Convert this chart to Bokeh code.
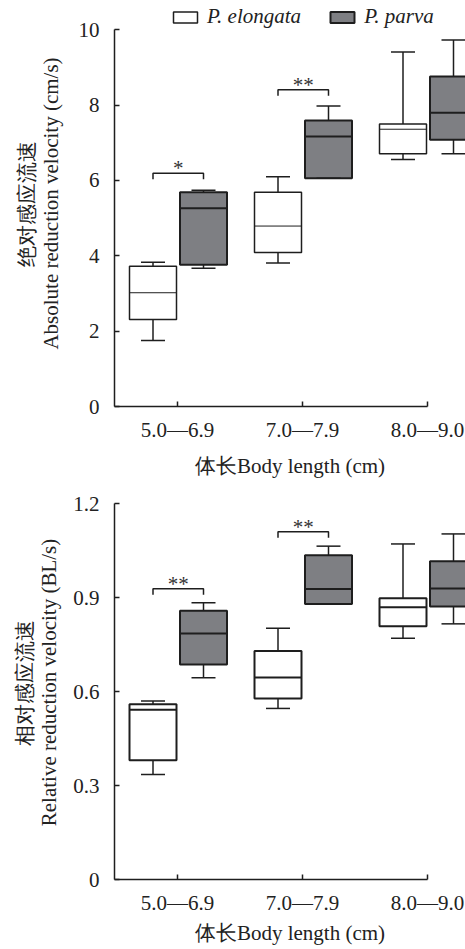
from bokeh.plotting import figure
from bokeh.layouts import column
from bokeh.models import ColumnDataSource, Legend, LegendItem, FixedTicker, Range1d
from bokeh.core.properties import value
from bokeh.embed import file_html
from bokeh.resources import INLINE

# ---------------- data ----------------
groups = ["5.0\u20146.9", "7.0\u20147.9", "8.0\u20149.0"]
species = ["P. elongata", "P. parva"]

# Absolute reduction velocity (cm/s)
abs_elo_wlo = [1.75, 3.81, 6.56]
abs_elo_q1 = [2.31, 4.09, 6.71]
abs_elo_med = [3.02, 4.79, 7.36]
abs_elo_q3 = [3.72, 5.69, 7.50]
abs_elo_whi = [3.83, 6.10, 9.41]
abs_par_wlo = [3.67, 6.06, 6.71]
abs_par_q1 = [3.76, 6.06, 7.08]
abs_par_med = [5.26, 7.17, 7.80]
abs_par_q3 = [5.69, 7.59, 8.76]
abs_par_whi = [5.74, 7.98, 9.73]
abs_sig_group = [0, 1]
abs_sig_level = [6.19, 8.41]
abs_sig_text = ["*", "**"]
abs_yticks = [0, 2, 4, 6, 8, 10]
abs_ytick_labels = ["0", "2", "4", "6", "8", "10"]

# Relative reduction velocity (BL/s)
rel_elo_wlo = [0.335, 0.546, 0.770]
rel_elo_q1 = [0.381, 0.578, 0.808]
rel_elo_med = [0.542, 0.645, 0.869]
rel_elo_q3 = [0.559, 0.729, 0.898]
rel_elo_whi = [0.570, 0.802, 1.071]
rel_par_wlo = [0.644, 0.879, 0.816]
rel_par_q1 = [0.686, 0.879, 0.871]
rel_par_med = [0.785, 0.927, 0.929]
rel_par_q3 = [0.858, 1.035, 1.016]
rel_par_whi = [0.883, 1.064, 1.103]
rel_sig_group = [0, 1]
rel_sig_level = [0.928, 1.110]
rel_sig_text = ["**", "**"]
rel_yticks = [0, 0.3, 0.6, 0.9, 1.2]
rel_ytick_labels = ["0", "0.3", "0.6", "0.9", "1.2"]

xlabel = "\u4f53\u957fBody length (cm)"
abs_ylabel = "\u7edd\u5bf9\u611f\u5e94\u6d41\u901f\nAbsolute reduction velocity (cm/s)"
rel_ylabel = "\u76f8\u5bf9\u611f\u5e94\u6d41\u901f\nRelative reduction velocity (BL/s)"

# ---------------- style ----------------
FONT = "Liberation Serif"
FS = "21px"
GREY = "#7e7f83"
DARK = "#1e1e1e"
OFFSETS = [-0.196, 0.208]
HALF_W = 0.188
CAP = 0.096
X_START, X_END = 0.496, 3.304


def series_source(s, wlo, q1, med, q3, whi):
    xs = [i + 1 + OFFSETS[s] for i in range(len(groups))]
    return ColumnDataSource(dict(
        x=xs, left=[x - HALF_W for x in xs], right=[x + HALF_W for x in xs],
        cl=[x - CAP for x in xs], cr=[x + CAP for x in xs],
        wlo=wlo, q1=q1, med=med, q3=q3, whi=whi))


def panel(height, y_end, min_bottom, px_per_unit, yticks, ylabels, ylabel,
          elo, par, sig_group, sig_level, sig_text, med_w_elo, box_w_elo,
          ylabel_standoff, xlabel_standoff, tick_standoff, legend=False):
    p = figure(width=465, height=height,
               x_range=Range1d(X_START, X_END), y_range=Range1d(0, y_end),
               output_backend="svg", toolbar_location=None,
               min_border_left=114, min_border_right=0, min_border_top=0,
               min_border_bottom=min_bottom)
    p.grid.visible = False
    p.outline_line_color = None

    renderers = []
    for s, (vals, fill, lw_box, lw_med) in enumerate([
            (elo, "white", box_w_elo, med_w_elo),
            (par, GREY, 2.0, 2.0)]):
        src = series_source(s, *vals)
        p.segment(x0="x", y0="q3", x1="x", y1="whi", source=src,
                  line_color=DARK, line_width=1.5)
        p.segment(x0="x", y0="wlo", x1="x", y1="q1", source=src,
                  line_color=DARK, line_width=1.5)
        r = p.quad(left="left", right="right", top="q3", bottom="q1", source=src,
                   fill_color=fill, line_color=DARK, line_width=lw_box)
        renderers.append(r)
        p.segment(x0="left", y0="med", x1="right", y1="med", source=src,
                  line_color=DARK, line_width=lw_med)
        p.segment(x0="cl", y0="whi", x1="cr", y1="whi", source=src,
                  line_color=DARK, line_width=1.5)
        p.segment(x0="cl", y0="wlo", x1="cr", y1="wlo", source=src,
                  line_color=DARK, line_width=1.5)

    # significance brackets
    leg = 6.0 / px_per_unit
    bx0 = [g + 1 + OFFSETS[0] for g in sig_group]
    bx1 = [g + 1 + OFFSETS[1] for g in sig_group]
    p.multi_line(xs=[[a, a, b, b] for a, b in zip(bx0, bx1)],
                 ys=[[l - leg, l, l, l - leg] for l in sig_level],
                 line_color=DARK, line_width=1.5)
    p.text(x=[(a + b) / 2 for a, b in zip(bx0, bx1)], y=sig_level, text=sig_text,
           text_font=value(FONT), text_font_size=FS, text_color="#333333",
           text_align="center", text_baseline="alphabetic", y_offset=-5)

    # axes
    xa = p.xaxis[0]
    xa.ticker = FixedTicker(ticks=[1, 2, 3])
    xa.major_label_overrides = {i + 1: g for i, g in enumerate(groups)}
    xa.bounds = (X_START, 3)
    xa.axis_label = xlabel
    xa.axis_label_standoff = xlabel_standoff
    xa.major_label_standoff = tick_standoff
    ya = p.yaxis[0]
    ya.ticker = FixedTicker(ticks=yticks)
    ya.major_label_overrides = {t: l for t, l in zip(yticks, ylabels)}
    ya.bounds = (0, yticks[-1])
    ya.axis_label = ylabel
    ya.axis_label_standoff = ylabel_standoff
    ya.major_label_standoff = 15
    for ax in (xa, ya):
        ax.axis_line_color = DARK
        ax.axis_line_width = 1.5
        ax.major_tick_line_color = DARK
        ax.major_tick_line_width = 1.5
        ax.major_tick_in = 5
        ax.major_tick_out = 0
        ax.minor_tick_line_color = None
        ax.major_label_text_font = FONT
        ax.major_label_text_font_size = FS
        ax.major_label_text_color = "#222222"
        ax.axis_label_text_font = FONT
        ax.axis_label_text_font_size = FS
        ax.axis_label_text_font_style = "normal"
        ax.axis_label_text_color = "#222222"
        ax.axis_label_text_line_height = 1.0

    if legend:
        lg = Legend(items=[LegendItem(label=species[0], renderers=[renderers[0]]),
                           LegendItem(label=species[1], renderers=[renderers[1]])],
                    location=(56, 377), orientation="horizontal",
                    glyph_width=30, glyph_height=14, label_standoff=7, spacing=26,
                    padding=0, margin=0, border_line_color=None,
                    background_fill_alpha=0,
                    label_text_font=FONT, label_text_font_size=FS,
                    label_text_font_style="italic", label_text_color="#222222")
        p.add_layout(lg)
    return p


p1 = panel(485, 406 / 37.67, 79, 37.67, abs_yticks, abs_ytick_labels, abs_ylabel,
           (abs_elo_wlo, abs_elo_q1, abs_elo_med, abs_elo_q3, abs_elo_whi),
           (abs_par_wlo, abs_par_q1, abs_par_med, abs_par_q3, abs_par_whi),
           abs_sig_group, abs_sig_level, abs_sig_text, 1.0, 1.5, 13, 9, 11,
           legend=True)
p2 = panel(464, 394 / 313.3, 70, 313.3, rel_yticks, rel_ytick_labels, rel_ylabel,
           (rel_elo_wlo, rel_elo_q1, rel_elo_med, rel_elo_q3, rel_elo_whi),
           (rel_par_wlo, rel_par_q1, rel_par_med, rel_par_q3, rel_par_whi),
           rel_sig_group, rel_sig_level, rel_sig_text, 2.0, 2.0, 9, 3, 11)

layout = column(p1, p2, spacing=0)
open("out.html", "w").write(file_html(layout, INLINE))
